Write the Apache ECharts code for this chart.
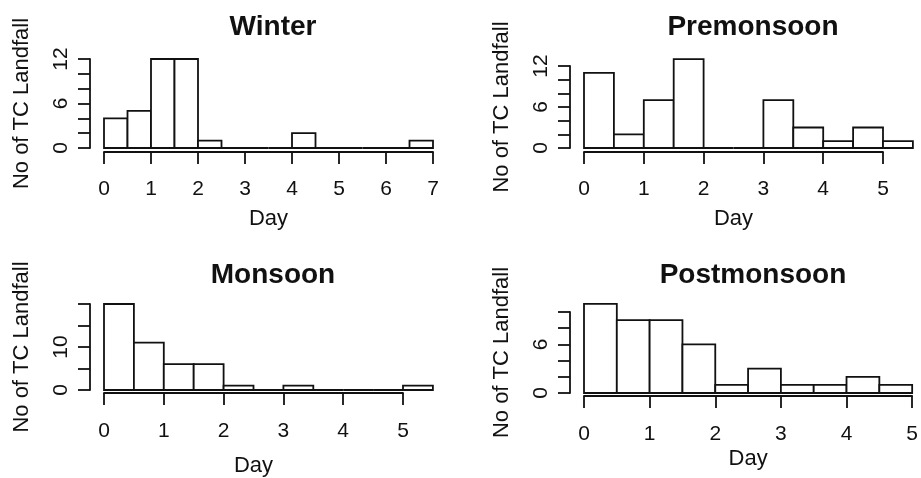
<!DOCTYPE html>
<html>
<head>
<meta charset="utf-8">
<script src="https://cdn.jsdelivr.net/npm/echarts@6/dist/echarts.min.js"></script>
<style>
  html, body { margin: 0; padding: 0; background: #fff; }
  #main { width: 921px; height: 478px; }
</style>
</head>
<body>
<div id="main"></div>
<script>
// histogram bins (day), bin width 0.5
var winterBins = [0, 0.5, 1, 1.5, 2, 2.5, 3, 3.5, 4, 4.5, 5, 5.5, 6, 6.5, 7];
var winterCounts = [4, 5, 12, 12, 1, 0, 0, 0, 2, 0, 0, 0, 0, 1];

var premonsoonBins = [0, 0.5, 1, 1.5, 2, 2.5, 3, 3.5, 4, 4.5, 5, 5.5];
var premonsoonCounts = [11, 2, 7, 13, 0, 0, 7, 3, 1, 3, 1];

var monsoonBins = [0, 0.5, 1, 1.5, 2, 2.5, 3, 3.5, 4, 4.5, 5, 5.5];
var monsoonCounts = [20, 11, 6, 6, 1, 0, 1, 0, 0, 0, 1];

var postmonsoonBins = [0, 0.5, 1, 1.5, 2, 2.5, 3, 3.5, 4, 4.5, 5];
var postmonsoonCounts = [11, 9, 9, 6, 1, 3, 1, 1, 2, 1];

// axis ticks
var winterXTicks = [0, 7];
var winterYTicks = [0, 12, 2];
var winterYLabels = [0, 6, 12];

var premonsoonXTicks = [0, 5];
var premonsoonYTicks = [0, 12, 2];
var premonsoonYLabels = [0, 6, 12];

var monsoonXTicks = [0, 5];
var monsoonYTicks = [0, 20, 5];
var monsoonYLabels = [0, 10];

var postmonsoonXTicks = [0, 5];
var postmonsoonYTicks = [0, 10, 2];
var postmonsoonYLabels = [0, 6];

var panelTitles = ['Winter', 'Premonsoon', 'Monsoon', 'Postmonsoon'];

var FONT = 'Liberation Sans, Arial, sans-serif';
var INK = '#111';

var panels = [
    { bins: winterBins, counts: winterCounts, xt: winterXTicks, yt: winterYTicks, yl: winterYLabels,
      grid: { left: 104, top: 59, width: 329, height: 89 }, titleTop: 8, xOff: 4, lblGap: 27, dayGap: 56 },
    { bins: premonsoonBins, counts: premonsoonCounts, xt: premonsoonXTicks, yt: premonsoonYTicks, yl: premonsoonYLabels,
      grid: { left: 584, top: 66, width: 299, height: 82 }, titleTop: 8, xOff: 4, lblGap: 27, dayGap: 56 },
    { bins: monsoonBins, counts: monsoonCounts, xt: monsoonXTicks, yt: monsoonYTicks, yl: monsoonYLabels,
      grid: { left: 104, top: 304, width: 299, height: 89 }, titleTop: 256, xOff: 3, lblGap: 28, dayGap: 62 },
    { bins: postmonsoonBins, counts: postmonsoonCounts, xt: postmonsoonXTicks, yt: postmonsoonYTicks, yl: postmonsoonYLabels,
      grid: { left: 584, top: 312, width: 329, height: 81 }, titleTop: 256, xOff: 3, lblGap: 28, dayGap: 52 }
];

// plot region centres (R style, axis range padded by 4%)
var titleCenters = [268, 748, 268, 748];

var option = {
    animation: false,
    backgroundColor: '#fff',
    textStyle: { fontFamily: FONT, color: INK },
    title: [],
    grid: [],
    xAxis: [],
    yAxis: [],
    series: []
};

panels.forEach(function (p, i) {
    option.title.push({
        text: panelTitles[i],
        left: titleCenters[i],
        top: p.titleTop,
        textAlign: 'center',
        textStyle: { fontFamily: FONT, fontSize: 28, fontWeight: 'bold', color: INK }
    });
    option.grid.push({ left: p.grid.left, top: p.grid.top, width: p.grid.width, height: p.grid.height });
    option.xAxis.push({
        type: 'value',
        gridIndex: i,
        min: p.xt[0],
        max: p.xt[1],
        interval: 1,
        offset: p.xOff,
        name: 'Day',
        nameLocation: 'middle',
        nameGap: p.dayGap,
        nameTextStyle: { fontFamily: FONT, fontSize: 22, color: INK },
        axisLine: { show: true, onZero: false, lineStyle: { color: INK, width: 1.8 } },
        axisTick: { show: true, length: 12, lineStyle: { color: INK, width: 1.8 } },
        axisLabel: { fontFamily: FONT, fontSize: 21, color: INK, margin: p.lblGap },
        splitLine: { show: false }
    });
    option.yAxis.push({
        type: 'value',
        gridIndex: i,
        min: p.yt[0],
        max: p.yt[1],
        interval: p.yt[2],
        offset: 14,
        name: 'No of TC Landfall',
        nameLocation: 'middle',
        nameGap: 57,
        nameTextStyle: { fontFamily: FONT, fontSize: 22, color: INK },
        axisLine: { show: true, onZero: false, lineStyle: { color: INK, width: 1.8 } },
        axisTick: { show: true, length: 12, lineStyle: { color: INK, width: 1.8 } },
        axisLabel: {
            fontFamily: FONT, fontSize: 21, color: INK, margin: 18, rotate: 90,
            formatter: function (v) { return p.yl.indexOf(v) >= 0 ? String(v) : ''; }
        },
        splitLine: { show: false }
    });
    var data = p.counts.map(function (c, k) { return [p.bins[k], p.bins[k + 1], c]; });
    option.series.push({
        type: 'custom',
        xAxisIndex: i,
        yAxisIndex: i,
        clip: false,
        data: data,
        encode: { x: [0, 1], y: 2 },
        renderItem: function (params, api) {
            var a = api.coord([api.value(0), api.value(2)]);
            var b = api.coord([api.value(1), 0]);
            return {
                type: 'rect',
                shape: { x: a[0], y: a[1], width: b[0] - a[0], height: b[1] - a[1] },
                style: { fill: '#fff', stroke: INK, lineWidth: 1.8 }
            };
        }
    });
});

var chart = echarts.init(document.getElementById('main'), null, { renderer: 'canvas' });
chart.setOption(option);
</script>
</body>
</html>
